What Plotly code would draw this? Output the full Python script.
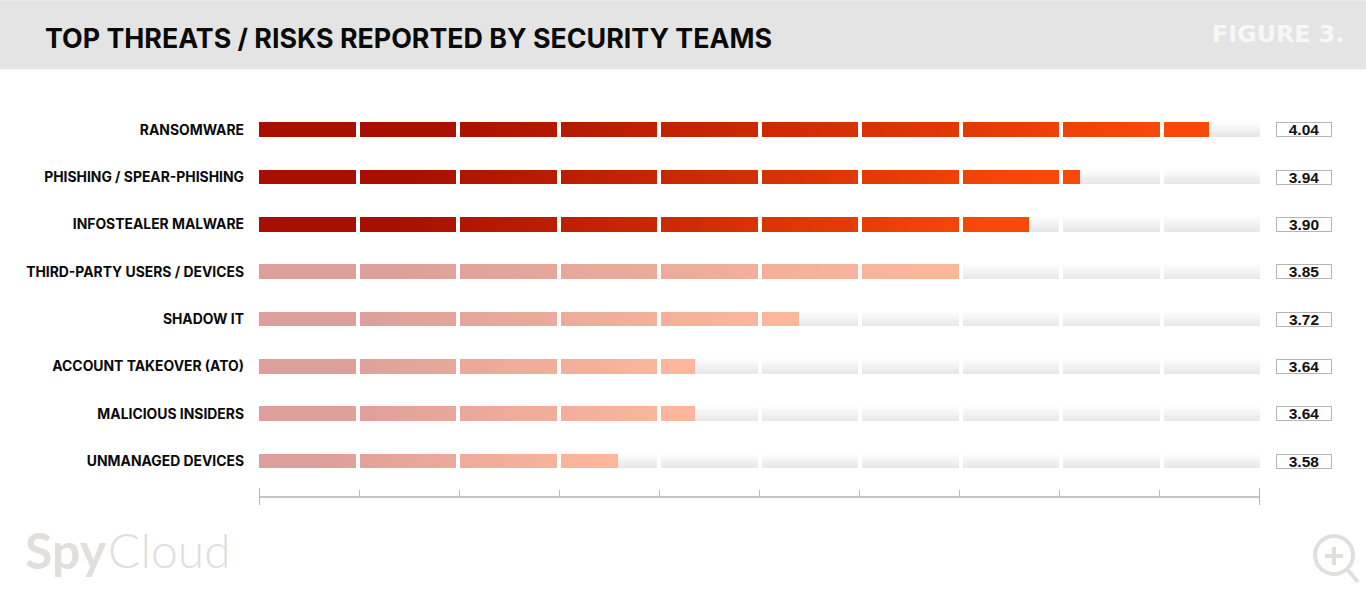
import plotly.graph_objects as go

categories = ["RANSOMWARE", "PHISHING / SPEAR-PHISHING", "INFOSTEALER MALWARE", "THIRD-PARTY USERS / DEVICES",
              "SHADOW IT", "ACCOUNT TAKEOVER (ATO)", "MALICIOUS INSIDERS", "UNMANAGED DEVICES"]
values = [4.04, 3.94, 3.90, 3.846, 3.721, 3.64, 3.64, 3.58]
highlighted = [True, True, True, False, False, False, False, False]
axis_min, axis_max, n_segments = 3.30, 4.08, 10

W, H = 1366, 591
ROW = 47.36
L, R, T, B = 259, 1260, 129.5 - ROW / 2, 496
def px(x): return (x - L) / (R - L)
def py(y): return (B - y) / (B - T)

DARK, ORANGE = (168, 15, 0), (248, 73, 8)
span = axis_max - axis_min
gap = span * 4.0 / (R - L)
seg_w = (span - gap * (n_segments - 1)) / n_segments
bar_h = 14.6 / ROW
edges = [axis_min + i * span / n_segments for i in range(n_segments + 1)]
seg_starts = [axis_min + i * (seg_w + gap) for i in range(n_segments)]

def mix(t, alpha):
    t = max(0, min(1, (t - 0.18) / 0.77))
    rgb = [a + (b - a) * t for a, b in zip(DARK, ORANGE)]
    return "rgb(%d,%d,%d)" % tuple(round(255 + (c - 255) * alpha) for c in rgb)

fig = go.Figure()
rows = list(range(len(categories)))

# background track, vertical fade in thin bands
bands = 6
for b in range(bands):
    g = round(252 - (252 - 232) * b / (bands - 1))
    xs, bs, ys = [], [], []
    for r in rows:
        for s in seg_starts:
            bs.append(s)
            xs.append(seg_w)
            ys.append(r - bar_h / 2 + bar_h * (b + 0.5) / bands)
    fig.add_trace(go.Bar(x=xs, base=bs, y=ys, orientation="h", width=bar_h / bands + 0.002,
                         marker=dict(color=f"rgb({g},{g},{g})", line_width=0), hoverinfo="skip", showlegend=False))

# filled gradient bars
slices = 12
for r, v, hi in zip(rows, values, highlighted):
    xs, bs, cs = [], [], []
    for s in seg_starts:
        s1 = min(s + seg_w, v)
        if s1 <= s:
            break
        for k in range(slices):
            a = s + (s1 - s) * k / slices
            c = s + (s1 - s) * (k + 1) / slices
            bs.append(a)
            xs.append(c - a)
            cs.append(mix(((a + c) / 2 - axis_min) / (v - axis_min), 1 if hi else 0.4))
    fig.add_trace(go.Bar(x=xs, base=bs, y=[r] * len(xs), orientation="h", width=bar_h,
                         marker=dict(color=cs, line_width=0), hoverinfo="skip", showlegend=False))

ICON = "#E2DEDC"
shapes = [
    dict(type="rect", xref="paper", yref="paper", x0=px(0), x1=px(W), y0=py(69), y1=py(0),
         fillcolor="#E4E4E4", line_width=0, layer="below"),
]
for x in (axis_min, axis_max):
    shapes.append(dict(type="line", xref="x", yref="paper", x0=x, x1=x, y0=py(505), y1=py(488),
                       line=dict(color="#B5B5B5", width=2)))
shapes += [
    dict(type="circle", xref="paper", yref="paper", x0=px(1315), x1=px(1353), y0=py(574), y1=py(536),
         line=dict(color=ICON, width=4)),
    dict(type="line", xref="paper", yref="paper", x0=px(1334), x1=px(1334), y0=py(565), y1=py(547),
         line=dict(color=ICON, width=4)),
    dict(type="line", xref="paper", yref="paper", x0=px(1325), x1=px(1343), y0=py(556), y1=py(556),
         line=dict(color=ICON, width=4)),
    dict(type="line", xref="paper", yref="paper", x0=px(1347), x1=px(1358), y0=py(569), y1=py(582),
         line=dict(color=ICON, width=4)),
]

ann = [
    dict(text="TOP THREATS / RISKS REPORTED BY SECURITY TEAMS", x=px(43), y=py(38), xref="paper", yref="paper",
         xanchor="left", yanchor="middle", showarrow=False,
         font=dict(family="Inter", size=26.8, color="#0A0A0A", weight=700)),
    dict(text="FIGURE 3.", x=px(1346), y=py(34), xref="paper", yref="paper", xanchor="right", yanchor="middle",
         showarrow=False, font=dict(family="DejaVu Sans", size=23.8, color="#F7F7F7", weight=700)),
    dict(text="<b>Spy</b>", x=px(23), y=py(550), xref="paper", yref="paper", xanchor="left", yanchor="middle",
         showarrow=False, font=dict(family="Lato", size=50, color=ICON)),
    dict(text="Cloud", x=px(106), y=py(550), xref="paper", yref="paper", xanchor="left", yanchor="middle",
         showarrow=False, font=dict(family="Lato", size=48, color=ICON, weight=300)),
]
for r, v in zip(rows, values):
    ann.append(dict(text=f"{v:.2f}", x=px(1304), y=r, xref="paper", yref="y", xanchor="center", yanchor="middle",
                    showarrow=False, width=54, height=13, bgcolor="white", bordercolor="#B5B5B5", borderwidth=1,
                    borderpad=0, font=dict(family="Liberation Sans", size=15.5, color="#111111", weight=700)))

fig.update_layout(
    width=W, height=H, autosize=False, barmode="overlay", plot_bgcolor="white", paper_bgcolor="white",
    margin=dict(l=L, r=W - R, t=T, b=H - B), bargap=0, shapes=shapes, annotations=ann,
    xaxis=dict(range=[axis_min, axis_max], tickvals=edges, ticks="inside", ticklen=6, tickwidth=1, tickcolor="#BDBDBD",
               showticklabels=False, showgrid=False, zeroline=False, showline=True, linecolor="#C4C4C4", linewidth=2),
    yaxis=dict(range=[(B - T) / ROW - 0.5, -0.5], tickvals=rows, ticktext=categories, showgrid=False, zeroline=False,
               ticks="", ticklabelstandoff=14, tickfont=dict(family="Inter", size=13.9, color="#0A0A0A", weight=700)),
)
fig.write_html("out.html", config=dict(displayModeBar=False),
               post_script="document.body.style.margin='0';document.body.style.overflow='hidden';")
